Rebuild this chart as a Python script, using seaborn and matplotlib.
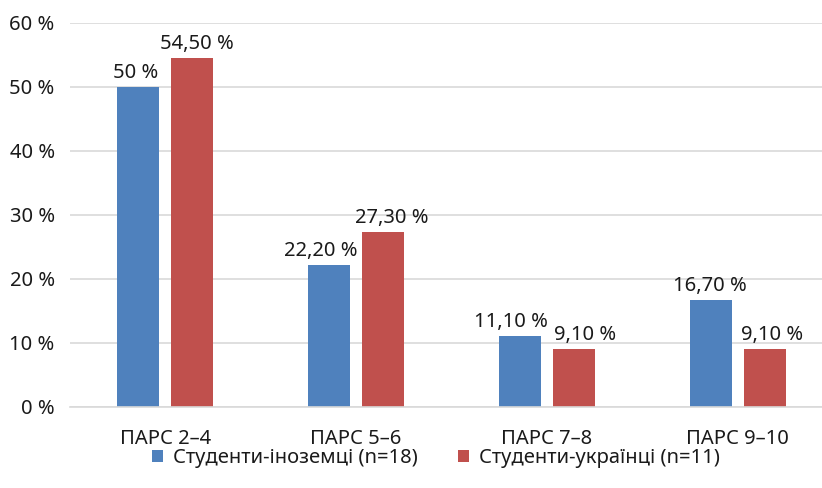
import matplotlib
matplotlib.use("Agg")
import matplotlib.pyplot as plt
import seaborn as sns
import pandas as pd

categories = ["ПАРС 2–4", "ПАРС 5–6", "ПАРС 7–8", "ПАРС 9–10"]
series_names = ["Студенти-іноземці (n=18)", "Студенти-українці (n=11)"]
foreign = [50, 22.2, 11.1, 16.7]
ukrainian = [54.5, 27.3, 9.1, 9.1]
yticks = [0, 10, 20, 30, 40, 50, 60]
colors = ["#4F81BD", "#C0504D"]
# horizontal nudges of data labels (pixels), as in the reference
label_nudge = [[-3, -8, -9, -1], [5, 9, 11, 7]]

sns.set_theme(style="white")
plt.rcParams['font.family'] = ['Noto Sans', 'DejaVu Sans']

df = pd.DataFrame({
    "cat": categories * 2,
    "val": foreign + ukrainian,
    "series": [series_names[0]] * 4 + [series_names[1]] * 4,
})

FS = 14.5
fig = plt.figure(figsize=(8.22, 4.88), dpi=100)
ax = fig.add_axes([70 / 822, 1 - 407 / 488, 763 / 822, 384 / 488])

sns.barplot(data=df, x="cat", y="val", hue="series", palette=colors,
            saturation=1, width=0.565, gap=0.22, ax=ax,
            edgecolor="none", linewidth=0, legend=True)

def fmt(v):
    if float(v).is_integer():
        return f"{int(v)} %"
    return f"{v:.2f}".replace(".", ",") + " %"

for ci, cont in enumerate(ax.containers):
    anns = ax.bar_label(cont, labels=[fmt(b.get_height()) for b in cont], padding=3,
                        fontsize=FS, color="#1a1a1a")
    for ann, dx in zip(anns, label_nudge[ci]):
        ann.xyann = (dx * 0.72, 3)

ax.set_xlim(-0.5, 3.5)
ax.set_ylim(0, 60)
ax.set_yticks(yticks)
ax.set_yticklabels([f"{t} %" for t in yticks])
ax.yaxis.grid(True, color="#d9d9d9", linewidth=1.2)
ax.set_axisbelow(True)
for s in ["top", "right", "left"]:
    ax.spines[s].set_visible(False)
ax.spines["bottom"].set_color("#d9d9d9")
ax.spines["bottom"].set_linewidth(1.2)
ax.tick_params(axis="y", length=0, pad=11, labelsize=FS, labelcolor="#1a1a1a")
ax.tick_params(axis="x", length=0, pad=16, labelsize=FS, labelcolor="#1a1a1a")
ax.set_xlabel("")
ax.set_ylabel("")

handles, labels = ax.get_legend_handles_labels()
ax.legend(handles, labels, loc="center", bbox_to_anchor=(436 / 822, 1 - 458 / 488),
          bbox_transform=fig.transFigure, ncol=2, frameon=False, fontsize=FS,
          handlelength=0.55, handleheight=0.55, handletextpad=0.5, columnspacing=2.0,
          labelcolor="#1a1a1a")

fig.savefig("out.png", dpi=100)
